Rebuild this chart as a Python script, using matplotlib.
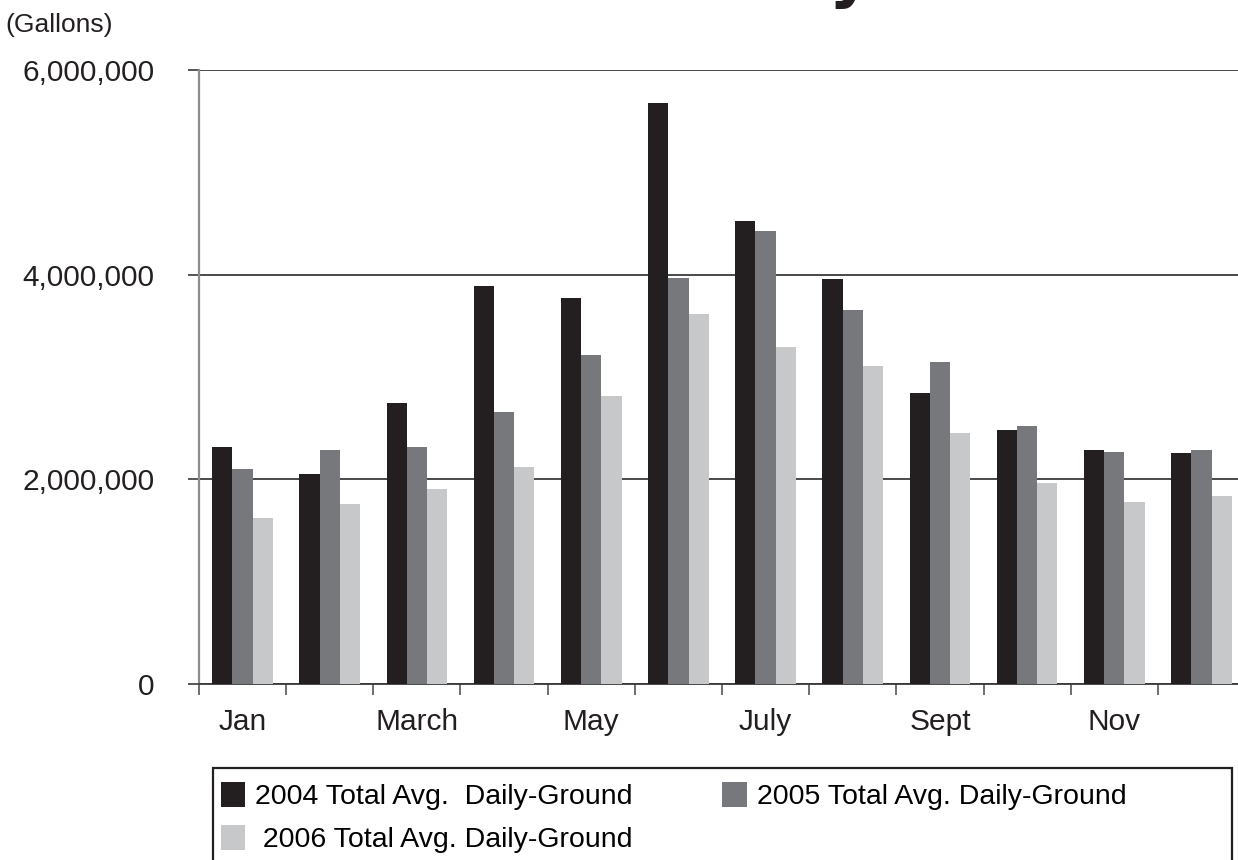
import numpy as np
import matplotlib.pyplot as plt
from matplotlib.patches import Patch, Rectangle

months = ['Jan', 'Feb', 'March', 'Apr', 'May', 'Jun',
          'July', 'Aug', 'Sept', 'Oct', 'Nov', 'Dec']
shown = ['Jan', '', 'March', '', 'May', '', 'July', '', 'Sept', '', 'Nov', '']

y2004 = [2315000, 2050000, 2745000, 3890000, 3775000, 5680000,
         4520000, 3960000, 2845000, 2485000, 2290000, 2260000]
y2005 = [2100000, 2285000, 2315000, 2655000, 3215000, 3970000,
         4425000, 3650000, 3150000, 2520000, 2270000, 2290000]
y2006 = [1620000, 1755000, 1910000, 2125000, 2815000, 3620000,
         3295000, 3110000, 2455000, 1965000, 1775000, 1835000]

labels = ['2004 Total Avg.  Daily-Ground',
          '2005 Total Avg. Daily-Ground',
          ' 2006 Total Avg. Daily-Ground']
colors = ['#231f20', '#77787b', '#c7c8ca']

plt.rcParams['font.family'] = ['Liberation Sans', 'DejaVu Sans']

W, H = 1238, 860
fig = plt.figure(figsize=(W / 100, H / 100), dpi=100)
ax = fig.add_axes([199 / W, 1 - 684 / H, (1245 - 199) / W, (684 - 70) / H])

x = np.arange(len(months))
bw = 0.232
for i, (vals, c) in enumerate(zip([y2004, y2005, y2006], colors)):
    ax.bar(x + (i - 1) * bw, vals, width=bw, color=c, linewidth=0, zorder=3)

ax.set_xlim(-0.5, 11.5)
ax.set_ylim(0, 6000000)
ax.set_yticks([0, 2000000, 4000000, 6000000])
ax.set_yticklabels(['0', '2,000,000', '4,000,000', '6,000,000'], fontsize=21.5, color='#231f20')
ax.yaxis.grid(True, color='#3a3a3a', linewidth=1.3, zorder=1)
ax.set_axisbelow(True)

ax.set_xticks(x)
ax.set_xticklabels(shown, fontsize=21.5, color='#231f20')
ax.set_xticks(np.arange(-0.5, 12, 1), minor=True)
ax.tick_params(axis='x', which='major', length=0, pad=17)
ax.tick_params(axis='x', which='minor', length=8, width=1.2, color='#555555')
ax.tick_params(axis='y', length=8, width=1.2, color='#3a3a3a', pad=24)

for s in ['top', 'right']:
    ax.spines[s].set_visible(False)
ax.spines['left'].set_color('#8a8d91')
ax.spines['left'].set_linewidth(1.6)
ax.spines['bottom'].set_color('#3a3a3a')
ax.spines['bottom'].set_linewidth(1.3)

fig.text(5 / W, 1 - 25 / H, '(Gallons)', fontsize=19, va='center', ha='left', color='#231f20')
# title cut off at the top of the picture
fig.text(850 / W, 1 + 6 / H, 'y', fontsize=48, fontweight='bold', ha='center',
         va='baseline', color='#231f20', family='DejaVu Sans')

# legend box runs past the bottom edge
fig.patches.append(Rectangle((213 / W, -0.05), (1232 - 213) / W, 0.05 + 1 - 768 / H,
                             transform=fig.transFigure, fill=False,
                             edgecolor='#231f20', linewidth=1.6))

# column-major fill: 2004 and 2005 on the first row, 2006 below
order = [0, 2, 1]
handles = [Patch(facecolor=colors[k], edgecolor='none') for k in order]
leg = fig.legend(handles, [labels[k] for k in order], loc='upper left', ncol=2,
                 bbox_to_anchor=(221 / W, 1 - 782 / H),
                 fontsize=20.5, frameon=False, handlelength=0.85, handleheight=1.0,
                 handletextpad=0.35, borderpad=0, labelspacing=0.5,
                 columnspacing=3.15, borderaxespad=0)

fig.savefig('out.png', dpi=100)
